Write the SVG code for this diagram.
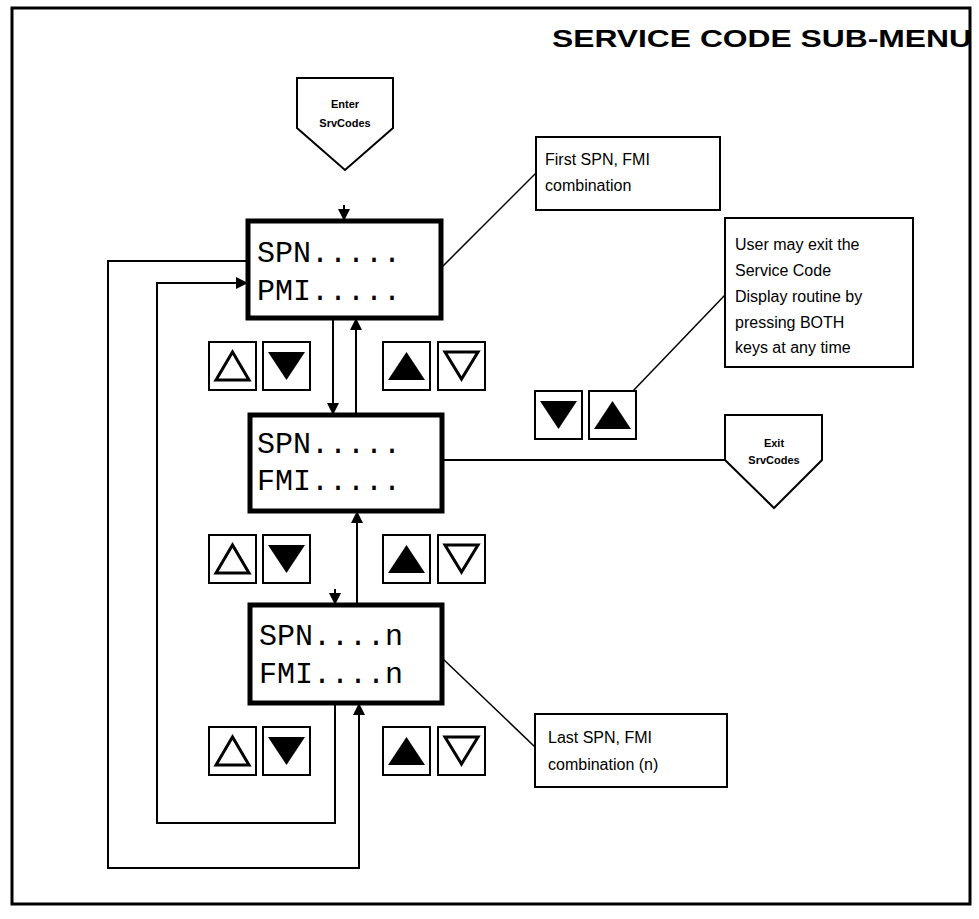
<svg xmlns="http://www.w3.org/2000/svg" width="979" height="919" viewBox="0 0 979 919">
<style>
.bg{fill:#fff}
.frame{fill:none;stroke:#000;stroke-width:3}
.disp{fill:#fff;stroke:#000;stroke-width:5}
.mono{font-family:"Liberation Mono","DejaVu Sans Mono",monospace;font-size:30px;fill:#000}
.note{fill:#fff;stroke:#000;stroke-width:2}
.nt{font-family:"Liberation Sans",Arial,sans-serif;font-size:16px;fill:#000}
.pent{fill:#fff;stroke:#000;stroke-width:2}
.pt{font-family:"Liberation Sans",Arial,sans-serif;font-size:11px;font-weight:bold;fill:#000;text-anchor:middle}
.title{font-family:"Liberation Sans",Arial,sans-serif;font-size:24px;font-weight:bold;fill:#000}
.wire{fill:none;stroke:#000;stroke-width:2}
.thin{fill:none;stroke:#000;stroke-width:1.5}
.key{fill:#fff;stroke:#000;stroke-width:2}
</style>
<defs>
<marker id="ah" viewBox="0 0 10 10" refX="10" refY="5" markerWidth="12" markerHeight="12" markerUnits="userSpaceOnUse" orient="auto">
<path d="M0,0 L10,5 L0,10 z" fill="#000"/>
</marker>
<g id="kUpH"><rect class="key" x="0" y="0" width="47" height="48"/><path d="M7,38 L23.5,10 L40,38 z" fill="#fff" stroke="#000" stroke-width="3"/></g>
<g id="kDnF"><rect class="key" x="0" y="0" width="47" height="48"/><path d="M5,10 L42,10 L23.5,38 z" fill="#000"/></g>
<g id="kUpF"><rect class="key" x="0" y="0" width="47" height="48"/><path d="M5,38 L23.5,10 L42,38 z" fill="#000"/></g>
<g id="kDnH"><rect class="key" x="0" y="0" width="47" height="48"/><path d="M7,10 L40,10 L23.5,37 z" fill="#fff" stroke="#000" stroke-width="3"/></g>
</defs>
<rect class="bg" x="0" y="0" width="979" height="919"/>
<rect class="frame" x="12" y="8" width="958" height="896"/>
<text class="title" x="552" y="47" textLength="420" lengthAdjust="spacingAndGlyphs">SERVICE CODE SUB-MENU</text>

<g id="connectors">
<line class="wire" x1="344" y1="205" x2="344" y2="221" marker-end="url(#ah)"/>
<line class="wire" x1="333" y1="318" x2="333" y2="415" marker-end="url(#ah)"/>
<line class="wire" x1="356" y1="415" x2="356" y2="318" marker-end="url(#ah)"/>
<line class="wire" x1="357" y1="605" x2="357" y2="511" marker-end="url(#ah)"/>
<line class="wire" x1="335" y1="589" x2="335" y2="605" marker-end="url(#ah)"/>
<polyline class="wire" points="335,703 335,823 157,823 157,283 248,283" marker-end="url(#ah)"/>
<polyline class="wire" points="248,261 108,261 108,868 359,868 359,703" marker-end="url(#ah)"/>
<line class="wire" x1="442" y1="460" x2="725" y2="460"/>
<line class="thin" x1="441" y1="268" x2="536" y2="173"/>
<line class="thin" x1="442" y1="658" x2="535" y2="747"/>
<line class="thin" x1="632" y1="392" x2="725" y2="295"/>
</g>

<g id="enter">
<path class="pent" d="M297,78 L393,78 L393,128 L345,170 L297,128 z"/>
<text class="pt" x="345" y="108">Enter</text>
<text class="pt" x="345" y="127">SrvCodes</text>
</g>

<g id="exit">
<path class="pent" d="M725,415 L822,415 L822,460 L774,508 L725,460 z"/>
<text class="pt" x="774" y="447">Exit</text>
<text class="pt" x="774" y="464">SrvCodes</text>
</g>

<g id="disp1">
<rect class="disp" x="248" y="221" width="193" height="97"/>
<text class="mono" x="257" y="262">SPN.....</text>
<text class="mono" x="257" y="300">PMI.....</text>
</g>

<g id="disp2">
<rect class="disp" x="250" y="415" width="192" height="96"/>
<text class="mono" x="257" y="453">SPN.....</text>
<text class="mono" x="257" y="490">FMI.....</text>
</g>

<g id="disp3">
<rect class="disp" x="250" y="605" width="192" height="98"/>
<text class="mono" x="259" y="645">SPN....n</text>
<text class="mono" x="259" y="683">FMI....n</text>
</g>

<g id="note-first">
<rect class="note" x="536" y="137" width="184" height="73"/>
<text class="nt" x="545" y="165">First SPN, FMI</text>
<text class="nt" x="545" y="191">combination</text>
</g>

<g id="note-exit">
<rect class="note" x="725" y="218" width="188" height="149"/>
<text class="nt" x="735" y="250">User may exit the</text>
<text class="nt" x="735" y="276">Service Code</text>
<text class="nt" x="735" y="302">Display routine by</text>
<text class="nt" x="735" y="328">pressing BOTH</text>
<text class="nt" x="735" y="353">keys at any time</text>
</g>

<g id="note-last">
<rect class="note" x="535" y="714" width="192" height="73"/>
<text class="nt" x="548" y="743">Last SPN, FMI</text>
<text class="nt" x="548" y="770">combination (n)</text>
</g>

<g id="keys1">
<use href="#kUpH" x="209" y="342"/>
<use href="#kDnF" x="263" y="342"/>
<use href="#kUpF" x="383" y="342"/>
<use href="#kDnH" x="438" y="342"/>
</g>
<g id="keys2">
<use href="#kUpH" x="209" y="535"/>
<use href="#kDnF" x="263" y="535"/>
<use href="#kUpF" x="383" y="535"/>
<use href="#kDnH" x="438" y="535"/>
</g>
<g id="keys3">
<use href="#kUpH" x="209" y="727"/>
<use href="#kDnF" x="263" y="727"/>
<use href="#kUpF" x="383" y="727"/>
<use href="#kDnH" x="438" y="727"/>
</g>
<g id="keys-both">
<use href="#kDnF" x="535" y="391"/>
<use href="#kUpF" x="589" y="391"/>
</g>
</svg>
